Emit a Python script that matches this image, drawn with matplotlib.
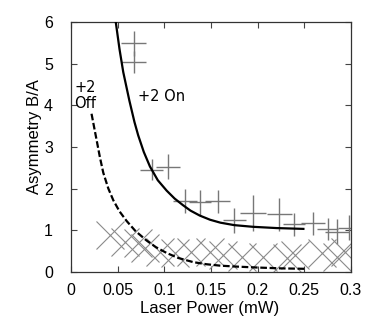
import matplotlib
matplotlib.use("Agg")
import matplotlib.pyplot as plt

# "+2 On" data (plus-shaped error crosses)
on_x = [0.067, 0.067, 0.0864, 0.104, 0.122, 0.138, 0.157, 0.175, 0.195, 0.223, 0.239, 0.259, 0.275, 0.285, 0.298]
on_y = [5.50, 5.04, 2.45, 2.53, 1.70, 1.67, 1.69, 1.24, 1.41, 1.38, 1.14, 1.16, 1.02, 0.96, 1.06]
on_xerr = [0.013, 0.013, 0.0125, 0.013, 0.0125, 0.012, 0.013, 0.012, 0.0136, 0.0134, 0.0116, 0.013, 0.0116, 0.0125, 0.012]
on_yerr = [0.30, 0.27, 0.25, 0.29, 0.28, 0.30, 0.28, 0.30, 0.44, 0.40, 0.27, 0.28, 0.26, 0.30, 0.30]

# "+2 Off" data (x-shaped markers)
off_x = [0.0418, 0.0579, 0.0721, 0.0793, 0.0954, 0.111, 0.129, 0.149, 0.163, 0.183, 0.206, 0.231, 0.240, 0.269, 0.285, 0.294]
off_y = [0.88, 0.72, 0.68, 0.56, 0.48, 0.44, 0.48, 0.48, 0.40, 0.36, 0.36, 0.32, 0.40, 0.44, 0.36, 0.48]

# fitted curves
fit_on_x = [0.048, 0.052, 0.056, 0.0625, 0.068, 0.072, 0.078, 0.0846, 0.093, 0.1025, 0.111, 0.120, 0.128, 0.138, 0.149, 0.160, 0.175, 0.195, 0.22, 0.249]
fit_on_y = [6.0, 5.35, 4.8, 4.12, 3.6, 3.28, 2.88, 2.53, 2.2, 1.95, 1.76, 1.6, 1.47, 1.35, 1.25, 1.18, 1.12, 1.08, 1.05, 1.03]
fit_off_x = [0.022, 0.025, 0.0275, 0.031, 0.0346, 0.040, 0.0453, 0.052, 0.0596, 0.069, 0.081, 0.091, 0.1025, 0.115, 0.131, 0.145, 0.160, 0.18, 0.20, 0.225, 0.25]
fit_off_y = [3.8, 3.45, 3.16, 2.75, 2.38, 2.0, 1.72, 1.45, 1.22, 0.98, 0.75, 0.59, 0.45, 0.33, 0.23, 0.18, 0.145, 0.12, 0.10, 0.08, 0.07]

x_ticks = [0, 0.05, 0.1, 0.15, 0.2, 0.25, 0.3]
x_ticklabels = ["0", "0.05", "0.1", "0.15", "0.2", "0.25", "0.3"]
y_ticks = [0, 1, 2, 3, 4, 5, 6]

fig = plt.figure(figsize=(3.82, 3.27), dpi=100)
ax = fig.add_axes([71/382, (327-271.7)/327, 280/382, 249.4/327])

ax.errorbar(on_x, on_y, xerr=on_xerr, yerr=on_yerr, fmt='none', ecolor='#777777',
            elinewidth=1.0, capsize=0, zorder=2)
ax.plot(off_x, off_y, linestyle='none', marker='x', markersize=20, markeredgewidth=0.8,
        color='#8a8a8a', zorder=2)

ax.plot(fit_on_x, fit_on_y, color='black', lw=1.6, zorder=3)
ax.plot(fit_off_x, fit_off_y, color='black', lw=1.6, linestyle=(0, (3, 1.2)), zorder=3)

ax.text(0.0718, 4.11, "+2 On", fontsize=10.5, family='DejaVu Sans', va='baseline', ha='left')
ax.text(0.0035, 4.32, "+2", fontsize=10.5, family='DejaVu Sans', va='baseline', ha='left')
ax.text(0.0035, 3.94, "Off", fontsize=10.5, family='DejaVu Sans', va='baseline', ha='left')

ax.set_xlim(0, 0.3)
ax.set_ylim(0, 6)
ax.set_xticks(x_ticks)
ax.set_xticklabels(x_ticklabels)
ax.set_yticks(y_ticks)
ax.tick_params(axis='both', direction='in', top=True, right=True, length=4, width=0.8,
               labelsize=11.5, color='#444444')
ax.tick_params(axis='x', pad=8)
ax.tick_params(axis='y', pad=13)
for lab in ax.get_xticklabels() + ax.get_yticklabels():
    lab.set_family('Liberation Sans')
for sp in ax.spines.values():
    sp.set_linewidth(0.9)
    sp.set_color('#333333')

ax.set_xlabel("Laser Power (mW)", fontsize=12, family='Liberation Sans')
ax.set_ylabel("Asymmetry B/A", fontsize=12, family='Liberation Sans')
ax.xaxis.set_label_coords(0.495, -0.116)
ax.yaxis.set_label_coords(-0.105, 0.541)

fig.savefig("out.png", dpi=100)
